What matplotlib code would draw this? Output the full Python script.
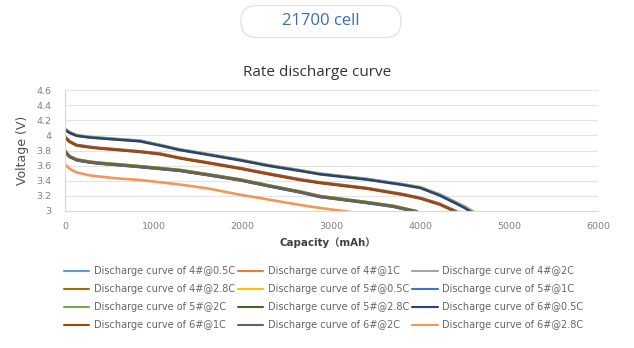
import matplotlib
matplotlib.use("Agg")
import matplotlib.pyplot as plt
from matplotlib.patches import FancyBboxPatch
from matplotlib.ticker import FuncFormatter

# ---------------- data ----------------
cap_05 = [0, 50, 130, 280, 500, 845, 1070, 1295, 1600, 1970, 2300, 2646, 2870, 3400, 3800, 4000, 4220, 4410, 4500, 4600]
v_4_05 = [4.085, 4.045, 4.005, 3.980, 3.960, 3.930, 3.875, 3.815, 3.755, 3.680, 3.605, 3.540, 3.495, 3.425, 3.355, 3.315, 3.220, 3.110, 3.060, 2.990]
v_5_05 = [4.080, 4.040, 4.000, 3.975, 3.955, 3.925, 3.870, 3.810, 3.750, 3.675, 3.600, 3.535, 3.490, 3.420, 3.350, 3.310, 3.210, 3.100, 3.050, 2.980]
v_6_05 = [4.075, 4.035, 3.995, 3.972, 3.952, 3.922, 3.866, 3.806, 3.746, 3.671, 3.596, 3.531, 3.486, 3.416, 3.346, 3.305, 3.205, 3.095, 3.040, 2.970]

cap_1 = [0, 50, 130, 280, 394, 600, 845, 1070, 1295, 1600, 1970, 2300, 2646, 2870, 3400, 3800, 4000, 4220, 4420]
v_4_1 = [3.985, 3.925, 3.875, 3.850, 3.835, 3.815, 3.790, 3.760, 3.705, 3.645, 3.570, 3.495, 3.420, 3.380, 3.305, 3.225, 3.175, 3.095, 2.990]
v_5_1 = [3.980, 3.920, 3.870, 3.845, 3.830, 3.810, 3.785, 3.755, 3.700, 3.640, 3.565, 3.490, 3.415, 3.375, 3.300, 3.220, 3.170, 3.090, 2.985]
v_6_1 = [3.975, 3.915, 3.866, 3.841, 3.826, 3.806, 3.781, 3.751, 3.696, 3.636, 3.560, 3.485, 3.410, 3.370, 3.295, 3.215, 3.165, 3.085, 2.975]

cap_2 = [0, 50, 130, 280, 394, 600, 845, 1295, 1600, 1970, 2300, 2646, 2870, 3400, 3700, 3960]
v_4_2 = [3.795, 3.725, 3.680, 3.650, 3.635, 3.615, 3.590, 3.540, 3.485, 3.415, 3.335, 3.255, 3.195, 3.115, 3.065, 2.995]
v_5_2 = [3.790, 3.720, 3.675, 3.645, 3.630, 3.610, 3.585, 3.535, 3.480, 3.410, 3.330, 3.250, 3.190, 3.110, 3.060, 2.990]
v_6_2 = [3.785, 3.716, 3.671, 3.641, 3.626, 3.606, 3.581, 3.531, 3.476, 3.406, 3.326, 3.246, 3.186, 3.106, 3.056, 2.985]
v_4_28 = [3.800, 3.728, 3.683, 3.653, 3.638, 3.618, 3.593, 3.543, 3.488, 3.418, 3.338, 3.258, 3.198, 3.118, 3.068, 2.998]
v_5_28 = [3.788, 3.718, 3.673, 3.643, 3.628, 3.608, 3.583, 3.533, 3.478, 3.408, 3.328, 3.248, 3.188, 3.108, 3.058, 2.988]

cap_28 = [0, 50, 130, 280, 394, 600, 845, 1070, 1295, 1600, 1970, 2300, 2646, 2870, 3000, 3200]
v_6_28 = [3.615, 3.560, 3.510, 3.470, 3.455, 3.430, 3.410, 3.380, 3.350, 3.300, 3.215, 3.150, 3.080, 3.040, 3.020, 2.990]

labels = ["Discharge curve of 4#@0.5C", "Discharge curve of 4#@1C", "Discharge curve of 4#@2C",
          "Discharge curve of 4#@2.8C", "Discharge curve of 5#@0.5C", "Discharge curve of 5#@1C",
          "Discharge curve of 5#@2C", "Discharge curve of 5#@2.8C", "Discharge curve of 6#@0.5C",
          "Discharge curve of 6#@1C", "Discharge curve of 6#@2C", "Discharge curve of 6#@2.8C"]
series_x = [cap_05, cap_1, cap_2, cap_2, cap_05, cap_1, cap_2, cap_2, cap_05, cap_1, cap_2, cap_28]
series_y = [v_4_05, v_4_1, v_4_2, v_4_28, v_5_05, v_5_1, v_5_2, v_5_28, v_6_05, v_6_1, v_6_2, v_6_28]
colors = ["#5B9BD5", "#ED7D31", "#A5A5A5", "#997300", "#FFC000", "#4472C4",
          "#70AD47", "#43682B", "#264478", "#9E480E", "#636363", "#F1975A"]

x_ticks = [0, 1000, 2000, 3000, 4000, 5000, 6000]
y_ticks = [3, 3.2, 3.4, 3.6, 3.8, 4, 4.2, 4.4, 4.6]

# ---------------- figure ----------------
fig = plt.figure(figsize=(6.34, 3.48), dpi=100)
fig.patch.set_facecolor("white")

box = FancyBboxPatch((2.41, 3.48 - 0.375), 1.60, 0.32,
                     boxstyle="round,pad=0,rounding_size=0.16",
                     transform=fig.dpi_scale_trans, facecolor="white",
                     edgecolor="#DCE1E8", linewidth=0.9)
fig.patches.append(box)
fig.text(321 / 634, 1 - 21 / 348, "21700 cell", ha="center", va="center",
         fontsize=12, color="#3B6DB3", family="Open Sans")

fig.text(317 / 634, 1 - 72 / 348, "Rate discharge curve", ha="center", va="center",
         fontsize=11, color="#333333", family="Open Sans")

ax = fig.add_axes([65 / 634, 1 - 211 / 348, 533 / 634, 121 / 348])
for xs, ys, c, lab in zip(series_x, series_y, colors, labels):
    ax.plot(xs, ys, color=c, lw=1.9, label=lab, solid_capstyle="round",
            solid_joinstyle="round")

ax.set_xlim(0, 6000)
ax.set_ylim(3, 4.6)
ax.set_xticks(x_ticks)
ax.set_yticks(y_ticks)
ax.yaxis.set_major_formatter(FuncFormatter(lambda v, p: "%g" % v))
ax.grid(axis="y", color="#E3E3E3", lw=0.8)
ax.set_axisbelow(True)
for s in ["top", "right"]:
    ax.spines[s].set_visible(False)
for s in ["left", "bottom"]:
    ax.spines[s].set_color("#D9D9D9")
    ax.spines[s].set_linewidth(0.8)
ax.tick_params(length=0, labelsize=6.8, labelcolor="#808080")
ax.tick_params(axis="y", pad=10)
ax.tick_params(axis="x", pad=8)

ax.set_ylabel("Voltage (V)", fontsize=9, color="#505050", labelpad=5)
fig.text(328 / 634, 1 - 243 / 348, "Capacity（mAh）", ha="center", va="center",
         fontsize=7.4, fontweight="bold", color="#404040",
         family=["DejaVu Sans", "Noto Sans CJK SC"])

handles, labs = ax.get_legend_handles_labels()
order = [0, 3, 6, 9, 1, 4, 7, 10, 2, 5, 8, 11]
leg = fig.legend([handles[i] for i in order], [labs[i] for i in order],
                 ncol=3, loc="upper left", bbox_to_anchor=(64 / 634, 1 - 266 / 348),
                 frameon=False, fontsize=7, handlelength=2.6, handletextpad=0.45,
                 columnspacing=0.35, labelspacing=0.82, borderaxespad=0, borderpad=0,
                 labelcolor="#666666")
for h in leg.legend_handles:
    h.set_linewidth(1.5)

fig.savefig("out.png", dpi=100, facecolor="white")
